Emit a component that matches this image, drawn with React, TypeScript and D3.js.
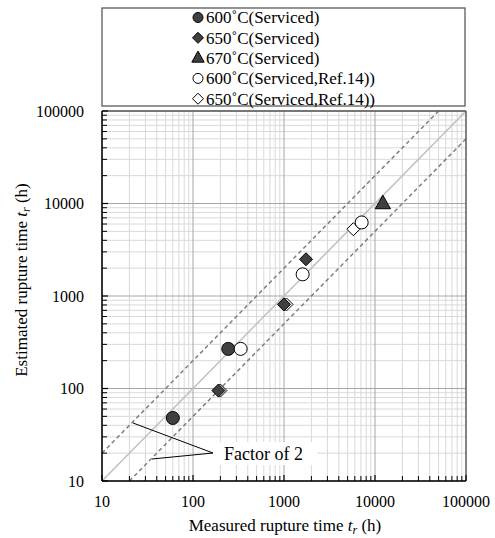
import React from "react";
import * as d3 from "d3";

const series600S = [{ x: 60, y: 48 }, { x: 244, y: 268 }];
const series650S = [{ x: 190, y: 95 }, { x: 1000, y: 811 }, { x: 1745, y: 2495 }];
const series670S = [{ x: 12200, y: 9840 }];
const series600R = [{ x: 334, y: 268 }, { x: 1603, y: 1715 }, { x: 7140, y: 6240 }];
const series650R = [{ x: 200, y: 95 }, { x: 1065, y: 811 }, { x: 5780, y: 5270 }];
const legendLabels = [
  "600˚C(Serviced)",
  "650˚C(Serviced)",
  "670˚C(Serviced)",
  "600˚C(Serviced,Ref.14))",
  "650˚C(Serviced,Ref.14))",
];
const tickValues = [10, 100, 1000, 10000, 100000];

const W = 495, H = 538;
const L = 102, R = 466, T = 111, B = 481;
const FONT = "Liberation Serif, Tinos, Times New Roman, DejaVu Serif, serif";

export default function App() {
  const x = d3.scaleLog().domain([10, 100000]).range([L, R]);
  const y = d3.scaleLog().domain([10, 100000]).range([B, T]);
  const minor: number[] = [];
  const major: number[] = [];
  for (let e = 1; e <= 4; e++) {
    for (let m = 2; m <= 9; m++) minor.push(m * Math.pow(10, e));
  }
  tickValues.forEach((v) => major.push(v));

  const lineGen = d3.line<[number, number]>().x((d) => x(d[0])).y((d) => y(d[1]));
  const dark = "#404040";

  const circle = (d: { x: number; y: number }, i: number, fill: string) => (
    <circle key={i} cx={x(d.x)} cy={y(d.y)} r={6.5} fill={fill} stroke="#000" strokeWidth={1} />
  );
  const diamondPath = (cx: number, cy: number, s: number) =>
    `M${cx},${cy - s}L${cx + s},${cy}L${cx},${cy + s}L${cx - s},${cy}Z`;
  const triPath = (cx: number, cy: number, s: number) =>
    `M${cx},${cy - s}L${cx + s * 0.95},${cy + s * 0.7}L${cx - s * 0.95},${cy + s * 0.7}Z`;

  const legendY = (i: number) => 17.5 + 20.3 * i;
  const lx = 198;

  return (
    <svg width={W} height={H} style={{ position: "absolute", left: 0, top: 0, background: "#fff", fontFamily: FONT }}>
      <rect x={0} y={0} width={W} height={H} fill="#fff" />
      {/* legend */}
      <rect x={102} y={8} width={363} height={98} fill="#fff" stroke="#595959" strokeWidth={1.3} />
      {legendLabels.map((t, i) => (
        <text key={t} x={206} y={legendY(i)} dy="0.35em" fontSize={17} fill="#000">{t}</text>
      ))}
      <circle cx={lx} cy={legendY(0)} r={5} fill={dark} stroke="#000" />
      <path d={diamondPath(lx, legendY(1), 5.5)} fill={dark} stroke="#000" />
      <path d={triPath(lx, legendY(2) - 0.5, 6.5)} fill={dark} stroke="#000" />
      <circle cx={lx} cy={legendY(3)} r={5} fill="#fff" stroke="#000" />
      <path d={diamondPath(lx, legendY(4), 5.5)} fill="#fff" stroke="#000" />

      {/* grid */}
      <g>
        {minor.map((v) => (
          <line key={"vx" + v} x1={x(v)} x2={x(v)} y1={T} y2={B} stroke="#d9d9d9" strokeWidth={1} />
        ))}
        {minor.map((v) => (
          <line key={"hy" + v} x1={L} x2={R} y1={y(v)} y2={y(v)} stroke="#d9d9d9" strokeWidth={1} />
        ))}
        {major.map((v) => (
          <line key={"mx" + v} x1={x(v)} x2={x(v)} y1={T} y2={B} stroke="#a6a6a6" strokeWidth={1} />
        ))}
        {major.map((v) => (
          <line key={"my" + v} x1={L} x2={R} y1={y(v)} y2={y(v)} stroke="#a6a6a6" strokeWidth={1} />
        ))}
      </g>

      {/* factor label background */}
      <rect x={213} y={442} width={104} height={23} fill="#fff" />

      {/* reference lines */}
      <path d={lineGen([[10, 10], [100000, 100000]]) || ""} stroke="#bfbfbf" strokeWidth={1.5} fill="none" />
      <path d={lineGen([[10, 20], [50000, 100000]]) || ""} stroke="#7f7f7f" strokeWidth={1.5} strokeDasharray="4,3" fill="none" />
      <path d={lineGen([[20, 10], [100000, 50000]]) || ""} stroke="#7f7f7f" strokeWidth={1.5} strokeDasharray="4,3" fill="none" />

      {/* plot border */}
      <line x1={L} x2={R} y1={T} y2={T} stroke="#595959" strokeWidth={1.3} />
      <line x1={R} x2={R} y1={T} y2={B} stroke="#595959" strokeWidth={1.3} />
      <line x1={L} x2={L} y1={T} y2={B} stroke="#000" strokeWidth={1.5} />
      <line x1={L} x2={R} y1={B} y2={B} stroke="#000" strokeWidth={1.5} />

      {/* ticks */}
      {minor.map((v) => (
        <line key={"tx" + v} x1={x(v)} x2={x(v)} y1={B} y2={B - 5} stroke="#000" strokeWidth={1} />
      ))}
      {minor.map((v) => (
        <line key={"ty" + v} x1={L} x2={L + 5} y1={y(v)} y2={y(v)} stroke="#000" strokeWidth={1} />
      ))}
      {major.map((v) => (
        <line key={"Tx" + v} x1={x(v)} x2={x(v)} y1={B} y2={B - 6} stroke="#000" strokeWidth={1.2} />
      ))}
      {major.map((v) => (
        <line key={"Ty" + v} x1={L} x2={L + 6} y1={y(v)} y2={y(v)} stroke="#000" strokeWidth={1.2} />
      ))}

      {/* tick labels */}
      {tickValues.map((v) => (
        <text key={"lx" + v} x={x(v)} y={501} dy="0.35em" textAnchor="middle" fontSize={16}>{String(v)}</text>
      ))}
      {tickValues.map((v) => (
        <text key={"ly" + v} x={84} y={y(v)} dy="0.35em" textAnchor="end" fontSize={16}>{String(v)}</text>
      ))}

      {/* axis titles */}
      <text x={285} y={525} dy="0.35em" textAnchor="middle" fontSize={17}>
        Measured rupture time <tspan fontStyle="italic">t</tspan>
        <tspan fontStyle="italic" fontSize={12} dy="3">r</tspan>
        <tspan dy="-3"> (h)</tspan>
      </text>
      <text transform="translate(21,280) rotate(-90)" dy="0.35em" textAnchor="middle" fontSize={17}>
        Estimated rupture time <tspan fontStyle="italic">t</tspan>
        <tspan fontStyle="italic" fontSize={12} dy="3">r</tspan>
        <tspan dy="-3"> (h)</tspan>
      </text>

      {/* factor of 2 annotation */}
      <line x1={133} y1={423} x2={213} y2={453} stroke="#000" strokeWidth={1} />
      <line x1={152} y1={459} x2={213} y2={453} stroke="#000" strokeWidth={1} />
      <text x={224} y={454} dy="0.35em" fontSize={18}>Factor of 2</text>

      {/* markers */}
      <g>
        {series650R.map((d, i) => (
          <path key={"r650" + i} d={diamondPath(x(d.x), y(d.y), 6.5)} fill="#fff" stroke="#000" strokeWidth={1} />
        ))}
        {series650S.map((d, i) => (
          <path key={"s650" + i} d={diamondPath(x(d.x), y(d.y), 6.5)} fill={dark} stroke="#000" strokeWidth={1} />
        ))}
        {series600S.map((d, i) => circle(d, i, dark))}
        {series600R.map((d, i) => circle(d, 100 + i, "#fff"))}
        {series670S.map((d, i) => (
          <path key={"s670" + i} d={triPath(x(d.x), y(d.y) - 1, 8)} fill={dark} stroke="#000" strokeWidth={1} />
        ))}
      </g>
    </svg>
  );
}
